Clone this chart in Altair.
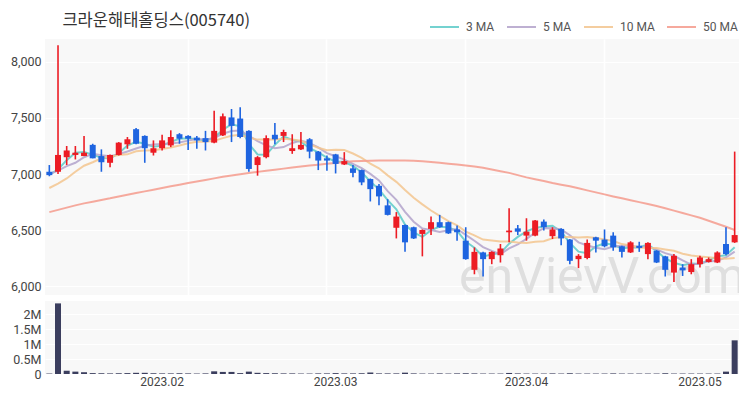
import altair as alt
import pandas as pd

dates = [
    "2023-01-11", "2023-01-12", "2023-01-13", "2023-01-16", "2023-01-17", "2023-01-18", "2023-01-19",
    "2023-01-20", "2023-01-25", "2023-01-26", "2023-01-27", "2023-01-30", "2023-01-31",
    "2023-02-01", "2023-02-02", "2023-02-03", "2023-02-06", "2023-02-07", "2023-02-08", "2023-02-09",
    "2023-02-10", "2023-02-13", "2023-02-14", "2023-02-15", "2023-02-16", "2023-02-17", "2023-02-20",
    "2023-02-21", "2023-02-22", "2023-02-23", "2023-02-24", "2023-02-27", "2023-02-28",
    "2023-03-02", "2023-03-03", "2023-03-06", "2023-03-07", "2023-03-08", "2023-03-09", "2023-03-10",
    "2023-03-13", "2023-03-14", "2023-03-15", "2023-03-16", "2023-03-17", "2023-03-20", "2023-03-21",
    "2023-03-22", "2023-03-23", "2023-03-24", "2023-03-27", "2023-03-28", "2023-03-29", "2023-03-30",
    "2023-03-31",
    "2023-04-03", "2023-04-04", "2023-04-05", "2023-04-06", "2023-04-07", "2023-04-10", "2023-04-11",
    "2023-04-12", "2023-04-13", "2023-04-14", "2023-04-17", "2023-04-18", "2023-04-19", "2023-04-20",
    "2023-04-21", "2023-04-24", "2023-04-25", "2023-04-26", "2023-04-27", "2023-04-28",
    "2023-05-02", "2023-05-03", "2023-05-04", "2023-05-08", "2023-05-09",
]

opens = [7020, 7020, 7150, 7170, 7160, 7260, 7160, 7100, 7170, 7265,
         7400, 7340, 7190, 7230, 7255, 7355, 7340, 7325, 7320, 7280,
         7345, 7505, 7495, 7385, 7080, 7150, 7350, 7340, 7205, 7220,
         7310, 7200, 7140, 7175, 7085, 7050, 7035, 6955, 6895, 6720,
         6520, 6545, 6525, 6465, 6510, 6570, 6570, 6505, 6405, 6145,
         6300, 6240, 6275, 6480, 6515, 6450, 6450, 6575, 6445, 6510,
         6415, 6240, 6250, 6435, 6415, 6450, 6355, 6300, 6360, 6285,
         6315, 6265, 6120, 6165, 6125, 6195, 6215, 6210, 6375, 6390]
highs = [7080, 8150, 7250, 7250, 7340, 7270, 7220, 7175, 7285, 7330,
         7410, 7345, 7300, 7350, 7390, 7365, 7345, 7340, 7385, 7565,
         7540, 7580, 7595, 7390, 7160, 7345, 7455, 7395, 7355, 7375,
         7320, 7205, 7165, 7180, 7195, 7080, 7040, 6960, 6910, 6775,
         6660, 6550, 6530, 6505, 6620, 6635, 6575, 6540, 6525, 6345,
         6305, 6310, 6375, 6695, 6545, 6605, 6590, 6595, 6525, 6515,
         6420, 6285, 6415, 6440, 6505, 6480, 6360, 6400, 6395, 6390,
         6320, 6270, 6285, 6195, 6240, 6270, 6255, 6310, 6525, 7200]
lows = [6980, 7000, 7080, 7130, 7160, 7140, 7020, 7060, 7165, 7225,
        7265, 7100, 7165, 7210, 7240, 7270, 7215, 7225, 7210, 7275,
        7340, 7285, 7320, 7020, 6985, 7140, 7265, 7285, 7180, 7215,
        7140, 7035, 7030, 7005, 7080, 6970, 6900, 6755, 6720, 6630,
        6425, 6305, 6420, 6265, 6455, 6520, 6465, 6405, 6235, 6105,
        6085, 6195, 6210, 6390, 6455, 6405, 6445, 6495, 6420, 6365,
        6195, 6160, 6240, 6300, 6345, 6315, 6255, 6295, 6305, 6240,
        6205, 6085, 6035, 6090, 6105, 6165, 6210, 6205, 6275, 6385]
closes = [6990, 7170, 7210, 7190, 7190, 7140, 7105, 7170, 7280, 7310,
          7270, 7230, 7230, 7300, 7330, 7315, 7315, 7300, 7285, 7385,
          7515, 7430, 7330, 7045, 7150, 7320, 7310, 7375, 7230, 7260,
          7200, 7120, 7120, 7090, 7115, 7010, 6925, 6865, 6800, 6635,
          6620, 6390, 6425, 6500, 6570, 6525, 6470, 6480, 6240, 6305,
          6240, 6305, 6335, 6495, 6485, 6485, 6585, 6525, 6505, 6425,
          6225, 6270, 6385, 6405, 6355, 6345, 6305, 6390, 6340, 6385,
          6210, 6145, 6270, 6140, 6195, 6255, 6240, 6300, 6285, 6455]
volumes = [15000, 2370000, 110000, 80000, 60000, 30000, 25000, 20000, 25000, 30000,
           40000, 40000, 25000, 20000, 20000, 25000, 20000, 15000, 20000, 90000,
           70000, 70000, 30000, 80000, 40000, 30000, 25000, 20000, 20000, 15000,
           15000, 20000, 20000, 30000, 20000, 20000, 25000, 50000, 20000, 20000,
           20000, 45000, 20000, 15000, 15000, 20000, 15000, 20000, 25000, 20000,
           15000, 15000, 15000, 35000, 20000, 15000, 15000, 15000, 20000, 15000,
           25000, 15000, 15000, 15000, 15000, 20000, 15000, 15000, 15000, 15000,
           15000, 25000, 15000, 15000, 15000, 15000, 15000, 15000, 80000, 1130000]
ma50 = [6660, 6680, 6700, 6720, 6738, 6753, 6768, 6783, 6800, 6815,
        6830, 6845, 6860, 6875, 6890, 6905, 6920, 6933, 6947, 6961,
        6975, 6986, 6997, 7008, 7019, 7030, 7039, 7048, 7057, 7066,
        7075, 7083, 7091, 7099, 7107, 7113, 7117, 7119, 7120, 7121,
        7121, 7120, 7118, 7114, 7108, 7100, 7092, 7084, 7076, 7066,
        7055, 7040, 7025, 7010, 6990, 6970, 6953, 6937, 6920, 6905,
        6890, 6872, 6854, 6836, 6818, 6800, 6783, 6766, 6749, 6732,
        6715, 6694, 6673, 6652, 6631, 6610, 6583, 6556, 6529, 6500]
# moving-average values before enough visible closes exist
ma3_lead = [6995, 7040]
ma5_lead = [7000, 7030, 7070, 7100]
ma10_lead = [6875, 6915, 6960, 7020, 7074, 7105, 7140, 7155, 7170]

month_ticks = ["2023-02-01", "2023-03-02", "2023-04-03", "2023-05-02"]
grid_ticks = ["2023-02-06", "2023-02-28", "2023-03-23", "2023-04-14"]
price_ticks = [6000, 6500, 7000, 7500, 8000]
volume_ticks = [0, 500000, 1000000, 1500000, 2000000]
ma_names = ["3 MA", "5 MA", "10 MA", "50 MA"]
ma_colors = ["#5ccbc8", "#b3a3cb", "#f3c58f", "#f59b8d"]
UP, DOWN = "#ec1c24", "#1e64e0"


def moving(vals, n, lead):
    s = pd.Series(vals).rolling(n).mean().tolist()
    return list(lead) + s[len(lead):]


df = pd.DataFrame({"date": dates, "open": opens, "high": highs, "low": lows,
                   "close": closes, "volume": volumes})
ma_vals = {"3 MA": moving(closes, 3, ma3_lead), "5 MA": moving(closes, 5, ma5_lead),
           "10 MA": moving(closes, 10, ma10_lead), "50 MA": ma50}
ma_df = pd.concat([pd.DataFrame({"date": dates, "ma": k, "value": v}) for k, v in ma_vals.items()])

W = 694
xscale = alt.Scale(domain=dates, paddingInner=0, paddingOuter=0)
pscale = alt.Scale(domain=[5920, 8205], nice=False, zero=False)

x_price = alt.X("date:O", scale=xscale,
                axis=alt.Axis(values=grid_ticks, labels=False, ticks=False, domain=False,
                              title=None, grid=True, gridColor="#ffffff", gridWidth=1.5,
                              minExtent=0, maxExtent=0, labelPadding=0, offset=0))
y_price = alt.Y("low:Q", scale=pscale,
                axis=alt.Axis(values=price_ticks, labelExpr="format(datum.value, ',')", title=None,
                              ticks=False, domain=False, grid=True, gridColor="#ffffff", labelPadding=4))

base = alt.Chart(df)
cond = alt.condition("datum.close >= datum.open", alt.value(UP), alt.value(DOWN))

watermark = alt.Chart(pd.DataFrame({"t": ["enVievV.com"]})).mark_text(
    fontSize=50, font="Roboto", color="#d9d9d9", opacity=0.8, align="left", baseline="alphabetic",
    clip=True
).encode(x=alt.value(414), y=alt.value(254), text="t:N")

wicks = base.mark_rule(strokeWidth=1.6).encode(x=x_price, y=y_price, y2="high:Q", color=cond)
bodies = base.mark_bar(size=6).encode(x=x_price, y="open:Q", y2="close:Q", color=cond)
lines = alt.Chart(ma_df).mark_line(strokeWidth=2, opacity=0.85).encode(
    x=x_price,
    y=alt.Y("value:Q", scale=pscale),
    color=alt.Color("ma:N", sort=ma_names,
                    scale=alt.Scale(domain=ma_names, range=ma_colors),
                    legend=alt.Legend(orient="none", legendX=384, legendY=-20, direction="horizontal",
                                      title=None, symbolType="stroke", symbolSize=841,
                                      symbolStrokeWidth=2, labelFontSize=12, labelColor="#555555",
                                      labelFont="Roboto", columnPadding=11, labelOffset=6, padding=0,
                                      clipHeight=16)),
    detail="ma:N",
)

price = alt.layer(watermark, lines, wicks, bodies).properties(width=W, height=256)

vol = base.mark_bar(size=6, color="#3b3e5e").encode(
    x=alt.X("date:O", scale=xscale,
            axis=alt.Axis(values=month_ticks, labelExpr="substring(datum.value,0,4) + '.' + substring(datum.value,5,7)",
                          ticks=False, domain=False, grid=False, title=None, labelPadding=2,
                          labelAngle=0, labelFontSize=12)),
    y=alt.Y("volume:Q", scale=alt.Scale(domain=[0, 2450000], nice=False),
            axis=alt.Axis(values=volume_ticks, title=None, ticks=False, domain=False, grid=True,
                          gridColor="#ffffff", labelPadding=4,
                          labelExpr="datum.value == 0 ? '0' : (datum.value / 1000000) + 'M'")),
).properties(width=W, height=73)

chart = alt.vconcat(price, vol, spacing=6).properties(
    title=alt.TitleParams("크라운해태홀딩스(005740)", anchor="start", fontSize=16.5, font="Noto Sans CJK KR",
                          fontWeight="normal", color="#333333", dx=52, offset=-10),
    padding={"left": 2, "top": 4, "right": 0, "bottom": 0},
).configure_view(fill="#f8f8f8", stroke=None).configure_axis(
    labelFont="Roboto", labelFontSize=12.5, labelColor="#444444"
)

chart.save("out.html", embed_options={"renderer": "svg", "actions": False})
